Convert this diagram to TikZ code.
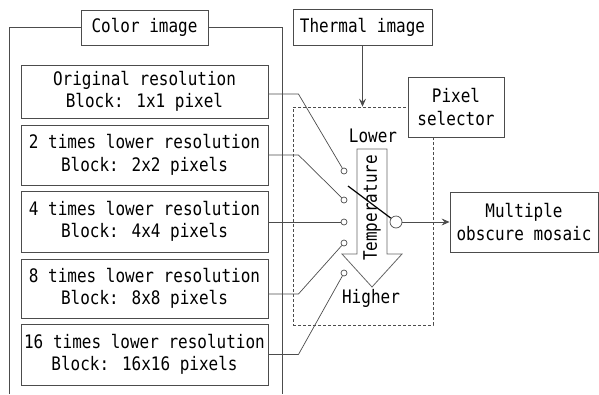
\documentclass[tikz,border=0pt]{standalone}
\usepackage{fontspec}
\setmainfont{DejaVu Sans Mono}[FakeStretch=0.86]
\usetikzlibrary{arrows.meta}
\begin{document}
\begin{tikzpicture}[x=1pt,y=-1pt,
  font=\fontsize{18.6}{22.5}\selectfont,
  box/.style={draw=black!70, line width=0.9pt, fill=white, inner sep=0pt, align=center},
  res/.style={box, minimum width=247pt},
  wire/.style={draw=black!70, line width=0.7pt},
  port/.style={circle, draw=black!70, line width=0.7pt, minimum size=6pt, inner sep=0pt, fill=white},
  arr/.style={wire, -{Stealth[length=8pt,width=7pt,inset=3pt]}},
  plain/.style={inner sep=0pt, align=center}
  ]
\useasboundingbox (0,0) rectangle (599,394);

% colour-image frame
\node[box, minimum width=127pt, minimum height=35pt] (color) at (144.5,27.5) {Color image};
\draw[wire] (color.west) -- (9,27.5) coordinate (fl) -- (9,394);
\draw[wire] (color.east) -- (282,27.5) coordinate (fr) -- (282,394);

% resolution boxes
\node[res, minimum height=53pt] (b1) at (144.5,91.5) {Original resolution\\Block: 1x1 pixel};
\node[res, minimum height=60pt] (b2) at (144.5,155) {2 times lower resolution\\Block: 2x2 pixels};
\node[res, minimum height=61pt] (b3) at (144.5,221.5) {4 times lower resolution\\Block: 4x4 pixels};
\node[res, minimum height=59pt] (b4) at (144.5,288.5) {8 times lower resolution\\Block: 8x8 pixels};
\node[res, minimum height=61pt] (b5) at (144.5,354.5) {16 times lower resolution\\Block: 16x16 pixels};

% thermal image
\node[box, minimum width=139pt, minimum height=36pt] (therm) at (362.5,27) {Thermal image};

% dashed selector area
\node[draw=black!70, line width=0.7pt, dash pattern=on 3pt off 2pt, minimum width=140pt, minimum height=218pt, inner sep=0pt] (sel) at (363,216) {};
\node[box, minimum width=96pt, minimum height=60pt] (pix) at (456,107) {Pixel\\selector};
\draw[arr] (therm.south) -- (therm.south |- sel.north);

% temperature arrow
\draw[draw=black!60, line width=0.8pt, fill=white] (357,149) -- (387,149) -- (387,254) -- (402,254) -- (372,287) -- (342,254) -- (357,254) -- cycle;
\node[plain, rotate=90] (temp) at (372,208) {Temperature};
\node[plain] (lower) at (373,136) {Lower};
\node[plain] (higher) at (371,298) {Higher};

% ports
\node[port] (p1) at (344,171) {};
\node[port] (p2) at (344,200) {};
\node[port] (p3) at (344,222) {};
\node[port] (p4) at (344,243) {};
\node[port] (p5) at (344,273) {};
\node[port, minimum size=12pt] (out) at (396,222) {};

\draw[wire] ([yshift=-2.5pt]b1.east) -- ++(30,0) -- (p1);
\draw[wire] (b2.east) -- ++(30,0) -- (p2);
\draw[wire] ([yshift=-0.5pt]b3.east) -- (p3);
\draw[wire] ([yshift=-5.5pt]b4.east) -- ++(30,0) -- (p4);
\draw[wire] (b5.east) -- ++(30,0) -- (p5);

% switch lever
\coordinate (lev) at (348,186);
\draw[black, line width=1.2pt] (lev) -- (out);

% output
\node[box, minimum width=148pt, minimum height=60pt] (mosaic) at (524,222) {Multiple\\obscure mosaic};
\draw[arr] (out) -- (mosaic);
\end{tikzpicture}
\end{document}
